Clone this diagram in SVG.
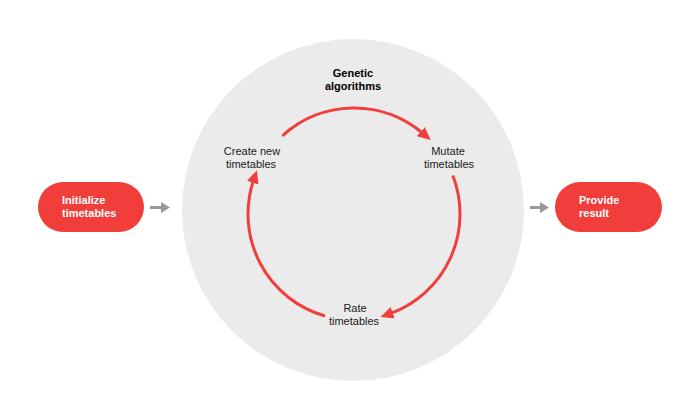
<svg xmlns="http://www.w3.org/2000/svg" width="700" height="420" viewBox="0 0 700 420">
<style>
.pill{fill:#f23e3b}
.pt{font-family:"Liberation Sans",Arial,sans-serif;font-size:11px;font-weight:bold;fill:#ffffff}
.lbl{font-family:"Liberation Sans",Arial,sans-serif;font-size:11px;fill:#1a1a1a;text-anchor:middle}
.ttl{font-family:"Liberation Sans",Arial,sans-serif;font-size:11px;font-weight:bold;fill:#000000;text-anchor:middle}
.cyc{fill:none;stroke:#f23e3b;stroke-width:3;marker-end:url(#ra)}
.gr{fill:none;stroke:#999999;stroke-width:3;marker-end:url(#ga)}
</style>
<defs>
<marker id="ra" markerUnits="userSpaceOnUse" markerWidth="14" markerHeight="12" refX="3" refY="6" orient="auto">
<path d="M0,0 L13,6 L0,12 z" fill="#f23e3b"/>
</marker>
<marker id="ga" markerUnits="userSpaceOnUse" markerWidth="10" markerHeight="12" refX="2" refY="5.5" orient="auto">
<path d="M0,0 L9,5.5 L0,11 z" fill="#999999"/>
</marker>
</defs>
<rect width="700" height="420" fill="#ffffff"/>
<g id="ga-circle">
<circle cx="353" cy="210" r="171" fill="#ebebeb"/>
<text class="ttl" x="353" y="77">Genetic</text>
<text class="ttl" x="353" y="90">algorithms</text>
</g>
<g id="init">
<rect class="pill" x="38" y="182" width="106" height="50" rx="25"/>
<text class="pt" x="62" y="204">Initialize</text>
<text class="pt" x="62" y="217">timetables</text>
</g>
<g id="result">
<rect class="pill" x="555" y="182" width="107" height="50" rx="25"/>
<text class="pt" x="579" y="204">Provide</text>
<text class="pt" x="579" y="217">result</text>
</g>
<g id="create">
<text class="lbl" x="252" y="155">Create new</text>
<text class="lbl" x="251" y="168">timetables</text>
</g>
<g id="mutate">
<text class="lbl" x="448" y="155">Mutate</text>
<text class="lbl" x="449" y="168">timetables</text>
</g>
<g id="rate">
<text class="lbl" x="355" y="312">Rate</text>
<text class="lbl" x="354" y="325">timetables</text>
</g>
<g id="connectors">
<path class="gr" d="M150,207.5 L163,207.5"/>
<path class="gr" d="M530,207.5 L542,207.5"/>
<path class="cyc" d="M282.4,135.8 A106,106 0 0 1 423.1,133.6"/>
<path class="cyc" d="M452.8,175.5 A106,106 0 0 1 389.9,313.7"/>
<path class="cyc" d="M325.1,316 A106,106 0 0 1 253.7,179.8"/>
</g>
</svg>
